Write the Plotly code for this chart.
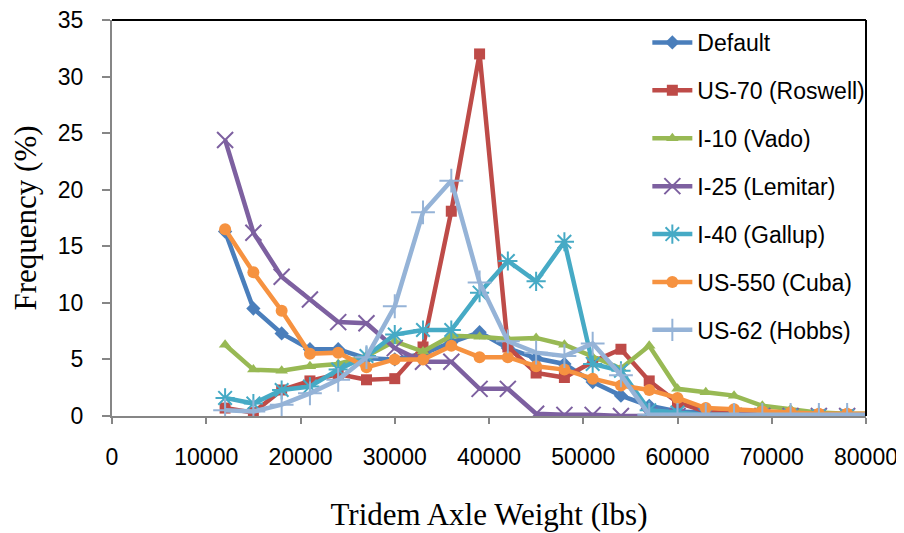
import plotly.graph_objects as go

weights = [12000, 15000, 18000, 21000, 24000, 27000, 30000, 33000, 36000, 39000,
           42000, 45000, 48000, 51000, 54000, 57000, 60000, 63000, 66000, 69000,
           72000, 75000, 78000, 81000]

default = [16.3, 9.5, 7.3, 5.9, 5.9, 5.1, 5.0, 5.5, 6.5, 7.4,
           6.0, 5.1, 4.6, 3.0, 1.8, 0.9, 0.4, 0.3, 0.2, 0.1, 0.1, 0.1, 0.1, 0.1]
us70 = [0.7, 0.3, 2.3, 3.1, 3.7, 3.2, 3.3, 6.1, 18.1, 32.0,
        6.1, 3.8, 3.4, 4.8, 5.9, 3.1, 1.2, 0.4, 0.2, 0.2, 0.1, 0.1, 0.1, 0.1]
i10 = [6.3, 4.1, 4.0, 4.4, 4.6, 5.3, 6.6, 5.7, 7.1, 7.0,
       6.8, 6.9, 6.3, 5.2, 4.2, 6.2, 2.4, 2.1, 1.8, 0.9, 0.6, 0.3, 0.2, 0.2]
i25 = [24.4, 16.2, 12.3, 10.3, 8.3, 8.2, 6.0, 4.8, 4.8, 2.4,
       2.4, 0.2, 0.1, 0.1, 0.0, 0.0, 0.0, 0.0, 0.0, 0.0, 0.0, 0.0, 0.0, 0.0]
i40 = [1.6, 1.1, 2.3, 2.6, 4.1, 5.3, 7.2, 7.6, 7.6, 10.9,
       13.7, 11.9, 15.4, 4.6, 4.0, 0.5, 0.3, 0.1, 0.1, 0.0, 0.0, 0.0, 0.0, 0.0]
us550 = [16.5, 12.7, 9.3, 5.5, 5.6, 4.3, 5.0, 5.0, 6.2, 5.2,
         5.2, 4.4, 4.1, 3.3, 2.7, 2.3, 1.6, 0.7, 0.6, 0.4, 0.3, 0.2, 0.2, 0.2]
us62 = [0.5, 0.4, 1.0, 2.0, 3.2, 5.2, 9.7, 18.0, 20.8, 11.8,
        6.6, 5.6, 5.3, 6.4, 3.6, 0.1, 0.1, 0.1, 0.1, 0.1, 0.1, 0.1, 0.1, 0.1]

names = ["Default", "US-70 (Roswell)", "I-10 (Vado)", "I-25 (Lemitar)",
         "I-40 (Gallup)", "US-550 (Cuba)", "US-62 (Hobbs)"]
series = [default, us70, i10, i25, i40, us550, us62]
colors = ["#4A7EBB", "#BE4B48", "#98B954", "#7D60A0", "#46AAC5", "#F69240", "#95B3D7"]
symbols = ["diamond", "square", "triangle-up", "x-thin", "asterisk", "circle", "cross-thin"]
sizes = [11, 11, 11, 16, 16, 12, 17]

x_ticks = list(range(0, 80001, 10000))
y_ticks = list(range(0, 36, 5))

fig = go.Figure()
for name, vals, col, sym, sz in zip(names, series, colors, symbols, sizes):
    open_sym = sym in ("x-thin", "asterisk", "cross-thin")
    fig.add_trace(go.Scatter(
        x=weights, y=vals, name=name, mode="lines+markers",
        legendgroup=name,
        line=dict(color=col, width=4.5),
        marker=dict(symbol=sym, size=sz, color=col,
                    line=dict(color=col, width=2 if open_sym else 0)),
        cliponaxis=True,
    ))

tick_font = dict(family="Liberation Sans, Arial", size=23, color="black")
title_font = dict(family="Liberation Serif, Times New Roman", size=31, color="black")

fig.update_layout(
    width=896, height=525,
    margin=dict(l=104, r=38, t=12, b=117, autoexpand=False),
    paper_bgcolor="white", plot_bgcolor="white",
    showlegend=True,
    legend=dict(x=0.71, y=0.9975, xanchor="left", yanchor="top",
                font=dict(family="Liberation Sans, Arial", size=23, color="black"),
                bgcolor="rgba(0,0,0,0)", tracegroupgap=15, itemwidth=40),
    xaxis=dict(range=[0, 80000], tickvals=x_ticks, ticktext=[str(v) for v in x_ticks],
               automargin=False, ticklabeloverflow="allow",
               showgrid=False, zeroline=False, showline=True, linecolor="#868686", linewidth=2,
               ticks="outside", ticklen=6, tickcolor="#868686", tickwidth=2,
               ticklabelstandoff=13,
               tickfont=tick_font,
               title=dict(text="Tridem Axle Weight (lbs)", standoff=35, font=title_font)),
    yaxis=dict(range=[0, 35], tickvals=y_ticks, automargin=False, ticklabeloverflow="allow",
               showgrid=False, zeroline=False, showline=True, linecolor="#868686", linewidth=2,
               ticks="outside", ticklen=8, tickcolor="#868686", tickwidth=2,
               ticklabelstandoff=14,
               tickfont=tick_font,
               title=dict(text="Frequency (%)", standoff=18, font=title_font)),
    shapes=[
        dict(type="line", xref="paper", yref="paper", x0=0, x1=1, y0=1, y1=1,
             line=dict(color="black", width=2)),
        dict(type="line", xref="paper", yref="paper", x0=1, x1=1, y0=0, y1=1,
             line=dict(color="black", width=2)),
    ],
)

fig.write_html("out.html")
